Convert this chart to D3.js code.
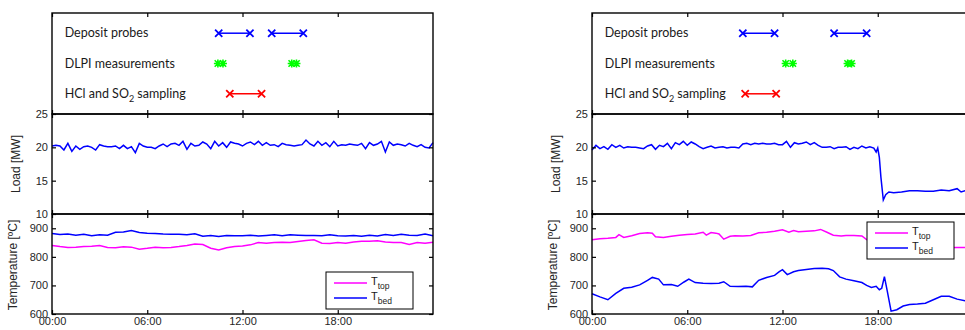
<!DOCTYPE html>
<html>
<head>
<meta charset="utf-8">
<script src="https://cdn.jsdelivr.net/npm/d3@7"></script>
<style>
  body { margin: 0; background: #fff; }
  svg { display: block; }
  .tick text { font-family: "Liberation Sans", Arial, sans-serif; font-size: 11px; fill: #262626; }
  .ylabel { font-family: "Liberation Sans", Arial, sans-serif; font-size: 12px; fill: #262626; }
  .evlabel { font-family: Lato, "Open Sans", sans-serif; font-size: 12.5px; fill: #1a1a1a; }
  .legend text { font-family: "Liberation Sans", Arial, sans-serif; font-size: 11px; fill: #1a1a1a; }
</style>
</head>
<body>
<script>
//// DATA
// hour ticks
var hourTicks = [0, 6, 12, 18];
var loadTicks = [10, 15, 20, 25];
var tempTicks = [600, 700, 800, 900];

// event rows (top panel)
var eventNames = ["Deposit probes", "DLPI measurements", "HCl and SO2 sampling"];

var leftProbes = [[10.5, 12.47], [13.84, 15.83]];
var leftDlpi = [10.45, 10.77, 15.1, 15.4];
var leftHcl = [[11.2, 13.2]];

var rightProbes = [[9.5, 11.5], [15.25, 17.3]];
var rightDlpi = [12.2, 12.65, 16.1, 16.35];
var rightHcl = [[9.65, 11.6]];

// left day, load [MW], every 15 min
var leftLoad = [20.2, 20.3, 20.2, 19.6, 20.6, 19.4, 20.2, 19.7, 20.1, 20.2, 20.0, 19.6,
  20.4, 20.2, 20.1, 20.1, 20.2, 19.8, 20.3, 19.8, 20.1, 19.2, 20.6, 20.2,
  20.0, 20.0, 19.8, 20.2, 20.5, 20.1, 20.5, 20.6, 20.3, 20.9, 19.7, 20.6,
  20.2, 20.3, 20.8, 20.5, 19.8, 20.9, 20.2, 20.7, 20.0, 20.8, 20.6, 20.5,
  20.2, 20.6, 20.8, 20.4, 20.9, 20.3, 20.7, 20.3, 20.4, 20.1, 20.6, 20.4,
  20.3, 20.2, 20.3, 20.4, 21.1, 20.5, 20.2, 20.9, 20.3, 20.7, 20.1, 20.9,
  20.2, 20.4, 20.3, 20.5, 20.4, 20.3, 20.6, 19.8, 20.7, 20.3, 20.5, 20.9,
  19.3, 20.8, 20.3, 20.5, 20.4, 20.2, 20.6, 20.3, 20.1, 20.4, 20.0, 19.9, 20.7];

// left day, temperatures [C], every 30 min
var leftTtop = [840, 836, 833, 834, 836, 837, 840, 833, 832, 835, 834, 827, 830, 834, 832, 833,
  836, 840, 845, 843, 830, 824, 832, 836, 838, 842, 850, 848, 850, 851, 850, 854,
  857, 860, 848, 847, 850, 848, 852, 855, 855, 856, 852, 850, 850, 843, 850, 848, 851];
var leftTbed = [882, 878, 880, 876, 879, 874, 877, 876, 886, 887, 892, 885, 883, 882, 880, 879,
  879, 877, 881, 872, 875, 871, 875, 874, 874, 876, 873, 875, 877, 874, 877, 876,
  875, 875, 874, 877, 874, 873, 875, 872, 876, 873, 878, 875, 879, 876, 875, 880, 874];

// right day, [hour, value]
var rightLoad = [[0,19.6],[0.25,20.3],[0.5,19.8],[0.75,20.1],[1,19.7],[1.25,20.4],[1.5,20.0],[1.75,20.3],
  [2,19.9],[2.25,20.1],[2.5,20.0],[2.75,20.0],[3,19.9],[3.25,19.8],[3.5,20.2],[3.75,20.4],
  [4,19.7],[4.25,20.3],[4.5,20.1],[4.75,20.6],[5,19.8],[5.25,20.7],[5.5,20.4],[5.75,20.9],
  [6,20.3],[6.25,20.8],[6.5,20.5],[6.75,20.1],[7,19.8],[7.25,20.0],[7.5,20.2],[7.75,19.9],
  [8,20.0],[8.25,20.1],[8.5,19.9],[8.75,20.0],[9,20.0],[9.25,19.9],[9.5,20.5],[9.75,20.6],
  [10,20.4],[10.25,20.6],[10.5,20.5],[10.75,20.6],[11,20.5],[11.25,20.5],[11.5,20.6],[11.75,20.4],
  [12,20.4],[12.25,20.9],[12.5,20.0],[12.75,20.7],[13,20.5],[13.25,20.6],[13.5,20.8],[13.75,20.4],
  [14,20.7],[14.25,20.3],[14.5,20.0],[14.75,20.0],[15,20.1],[15.25,19.8],[15.5,20.0],[15.75,20.0],
  [16,20.1],[16.25,19.7],[16.5,20.0],[16.75,19.8],[17,20.2],[17.25,19.9],[17.5,20.1],[17.75,19.9],
  [17.9,19.3],[18.0,19.9],[18.1,18.5],[18.2,15.5],[18.35,12.1],[18.5,12.9],[18.7,13.3],[19,13.2],
  [19.5,13.3],[20,13.5],[20.5,13.5],[21,13.4],[21.5,13.4],[22,13.6],[22.5,13.5],[23,13.8],
  [23.25,13.3],[23.5,13.5],[24,13.4]];
var rightTtop = [[0,860],[0.5,863],[1,865],[1.5,868],[1.7,878],[2,868],[2.5,874],[3,882],[3.5,884],
  [3.8,883],[4,870],[4.5,868],[5,872],[5.5,876],[6,878],[6.5,880],[7,886],[7.2,876],[7.5,885],
  [7.8,883],[8,880],[8.3,862],[8.7,872],[9,874],[9.5,873],[10,875],[10.5,884],[11,886],[11.5,890],
  [12,895],[12.4,886],[12.7,892],[13,888],[13.5,890],[14,891],[14.4,896],[14.8,886],[15.2,876],
  [15.7,873],[16,875],[16.5,875],[17,873],[17.3,860],[18,845],[19,835],[20,834],[21,833],
  [22,832],[23,833],[24,833]];
var rightTbed = [[0,671],[0.5,660],[1,650],[1.5,672],[2,690],[2.5,694],[3,702],[3.5,718],[3.8,728],
  [4.2,722],[4.5,702],[5,703],[5.4,697],[5.8,712],[6.1,722],[6.5,710],[7,708],[7.5,707],[8,708],
  [8.3,713],[8.7,697],[9.2,696],[9.7,697],[10.1,695],[10.5,718],[11,728],[11.5,735],[11.8,748],
  [12,755],[12.3,738],[12.7,748],[13,752],[13.5,756],[14,759],[14.5,760],[14.9,758],[15.2,752],
  [15.6,730],[16,722],[16.5,716],[17,710],[17.3,700],[17.6,693],[17.9,697],[18.1,685],[18.25,690],
  [18.42,731],[18.6,680],[18.84,610],[19.2,615],[19.6,628],[20,633],[20.5,635],[21,638],[21.5,650],
  [22,662],[22.5,662],[23,652],[23.5,646],[24,644]];

//// LAYOUT
var width = 965, height = 330;
var plotW = 381;
// [bottom, top] in pixels
var rows = {top: [114, 13], load: [214, 114], temp: [314, 214]};

var svg = d3.select("body").append("svg")
    .attr("width", width)
    .attr("height", height);

// spread an evenly sampled series over 0-24 h
function withHours(arr) {
  var step = 24 / (arr.length - 1);
  return arr.map(function(v, i) { return [i * step, v]; });
}

function frameAxes(g, x, y, ticksY, labels) {
  var y0 = y.range()[0], y1 = y.range()[1];
  // top / bottom ticks
  g.append("g").attr("transform", "translate(0," + y1 + ")")
    .call(d3.axisTop(x).tickValues(hourTicks).tickSizeInner(-4).tickSizeOuter(0).tickFormat(""));
  g.append("g").attr("transform", "translate(0," + y0 + ")")
    .call(d3.axisBottom(x).tickValues(hourTicks).tickSizeInner(-4).tickSizeOuter(0)
      .tickPadding(3)
      .tickFormat(labels ? function(d) { return d3.format("02d")(d) + ":00"; } : ""));
  if (ticksY) {
    g.append("g").attr("transform", "translate(" + x.range()[0] + ",0)")
      .call(d3.axisLeft(y).tickValues(ticksY).tickSizeInner(-4).tickSizeOuter(0).tickPadding(4));
    g.append("g").attr("transform", "translate(" + x.range()[1] + ",0)")
      .call(d3.axisRight(y).tickValues(ticksY).tickSizeInner(-4).tickSizeOuter(0).tickFormat(""));
  }
  g.selectAll(".domain").remove();
  g.selectAll(".tick line").attr("stroke", "#000").attr("stroke-width", 1.2);
  g.append("rect")
    .attr("x", x.range()[0]).attr("y", y1)
    .attr("width", x.range()[1] - x.range()[0]).attr("height", y0 - y1)
    .attr("fill", "none").attr("stroke", "#000").attr("stroke-width", 1.4);
}

function crossPath(cx, cy, r) {
  return "M" + (cx - r) + "," + (cy - r) + "L" + (cx + r) + "," + (cy + r) +
         "M" + (cx - r) + "," + (cy + r) + "L" + (cx + r) + "," + (cy - r);
}

function drawPanel(x0, ev, load, ttop, tbed, legendPos) {
  var g = svg.append("g");
  var x = d3.scaleLinear().domain([0, 24]).range([x0, x0 + plotW]);

  //// Events
  var yEv = d3.scaleLinear().domain([0, 1]).range(rows.top);
  var rowY = [0.8, 0.5, 0.2];
  var lab = g.selectAll(".evlabel").data(eventNames).enter().append("text")
    .attr("class", "evlabel")
    .attr("x", x(0.8))
    .attr("y", function(d, i) { return yEv(rowY[i]) + 4; });
  lab.filter(function(d, i) { return i < 2; }).text(function(d) { return d; });
  var hcl = lab.filter(function(d, i) { return i == 2; });
  hcl.append("tspan").text("HCl and SO");
  hcl.append("tspan").attr("font-size", "9px").attr("dy", 4).text("2");
  hcl.append("tspan").attr("dy", -4).text(" sampling");

  function spans(data, row, color) {
    var yy = yEv(row);
    data.forEach(function(s) {
      g.append("line").attr("x1", x(s[0])).attr("x2", x(s[1]))
        .attr("y1", yy).attr("y2", yy)
        .attr("stroke", color).attr("stroke-width", 1.5);
      s.forEach(function(t) {
        g.append("path").attr("d", crossPath(x(t), yy, 3.6))
          .attr("stroke", color).attr("stroke-width", 1.8).attr("fill", "none");
      });
    });
  }
  spans(ev.probes, rowY[0], "#0000ff");
  spans(ev.hcl, rowY[2], "#ff0000");
  ev.dlpi.forEach(function(t) {
    var cx = x(t), cy = yEv(rowY[1]);
    g.append("path")
      .attr("d", crossPath(cx, cy, 3.2) + "M" + (cx - 4) + "," + cy + "L" + (cx + 4) + "," + cy +
             "M" + cx + "," + (cy - 4) + "L" + cx + "," + (cy + 4))
      .attr("stroke", "#00ff00").attr("stroke-width", 1.6).attr("fill", "none");
  });
  frameAxes(g, x, yEv, null, false);

  //// Load
  var yLoad = d3.scaleLinear().domain([10, 25]).range(rows.load);
  var line = function(y) {
    return d3.line().x(function(d) { return x(d[0]); }).y(function(d) { return y(d[1]); });
  };
  g.append("path").datum(load).attr("d", line(yLoad))
    .attr("fill", "none").attr("stroke", "#0000ff").attr("stroke-width", 1.5);
  frameAxes(g, x, yLoad, loadTicks, false);
  g.append("text").attr("class", "ylabel")
    .attr("transform", "translate(" + (x0 - 32) + "," + d3.mean(rows.load) + ") rotate(-90)")
    .attr("text-anchor", "middle").text("Load [MW]");

  //// Temperature
  var yT = d3.scaleLinear().domain([600, 950]).range(rows.temp);
  g.append("path").datum(ttop).attr("d", line(yT))
    .attr("fill", "none").attr("stroke", "#ff00ff").attr("stroke-width", 1.5);
  g.append("path").datum(tbed).attr("d", line(yT))
    .attr("fill", "none").attr("stroke", "#0000ff").attr("stroke-width", 1.5);

  // legend
  var lg = g.append("g").attr("class", "legend")
    .attr("transform", "translate(" + legendPos[0] + "," + legendPos[1] + ")");
  lg.append("rect").attr("width", 87).attr("height", 37)
    .attr("fill", "#fff").attr("stroke", "#000").attr("stroke-width", 1);
  var items = [["top", "#ff00ff"], ["bed", "#0000ff"]];
  items.forEach(function(it, i) {
    var yy = 11 + i * 15;
    lg.append("line").attr("x1", 8).attr("x2", 41).attr("y1", yy).attr("y2", yy)
      .attr("stroke", it[1]).attr("stroke-width", 1.5);
    var t = lg.append("text").attr("x", 45).attr("y", yy + 2);
    t.append("tspan").text("T");
    t.append("tspan").attr("font-size", "8.5px").attr("dy", 4).text(it[0]);
  });

  frameAxes(g, x, yT, tempTicks, true);
  g.append("text").attr("class", "ylabel")
    .attr("transform", "translate(" + (x0 - 35) + "," + (d3.mean(rows.temp) + 1) + ") rotate(-90)")
    .attr("text-anchor", "middle").text("Temperature [\u00baC]");
}

drawPanel(52, {probes: leftProbes, dlpi: leftDlpi, hcl: leftHcl},
  withHours(leftLoad), withHours(leftTtop), withHours(leftTbed), [326, 272]);
drawPanel(592, {probes: rightProbes, dlpi: rightDlpi, hcl: rightHcl},
  rightLoad, rightTtop, rightTbed, [867, 222]);
</script>
</body>
</html>
